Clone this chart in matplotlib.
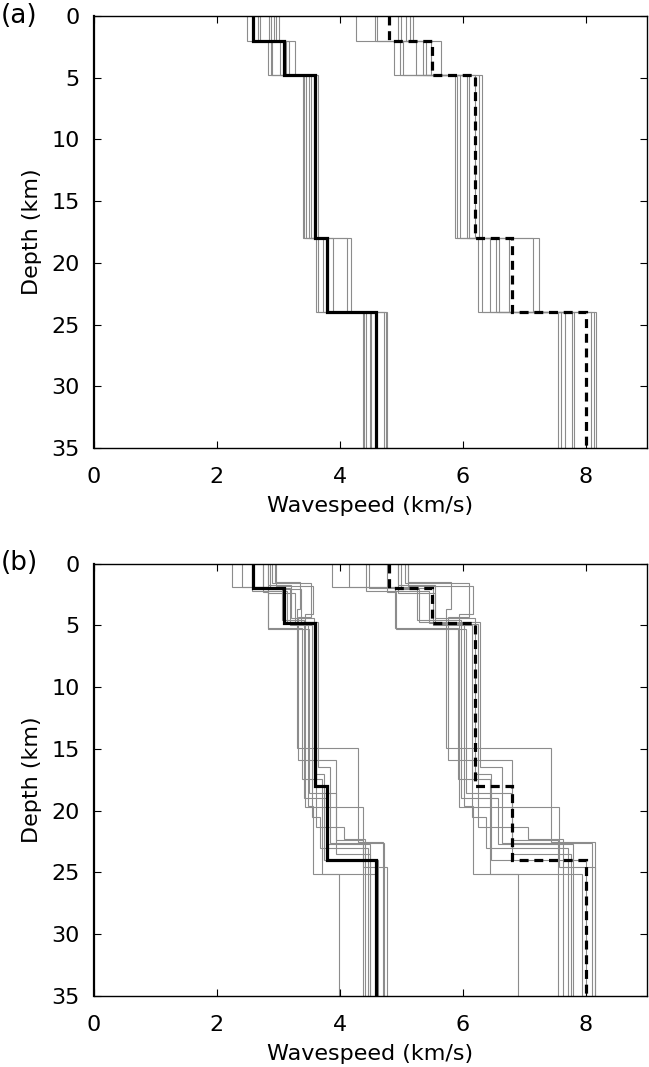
import matplotlib
matplotlib.use("Agg")
import matplotlib.pyplot as plt
import numpy as np

plt.rcParams['font.family'] = ['DejaVu Sans']

# ---------------- data ----------------
# reference model (both panels)
ref_bounds = [0, 2, 4.8, 18, 24, 35]
ref_vs = [2.6, 3.1, 3.6, 3.8, 4.6]
ref_vp = [4.8, 5.5, 6.2, 6.8, 8.0]

# panel (a): perturbed velocities, fixed layer boundaries
a_bounds = [0, 2, 4.8, 18, 24, 35]
a_vs_1 = [2.49, 2.83, 3.40, 3.61, 4.38]
a_vs_2 = [2.67, 3.27, 3.65, 4.19, 4.77]
a_vs_3 = [2.70, 2.91, 3.45, 3.82, 4.40]
a_vs_4 = [2.86, 3.09, 3.53, 3.73, 4.52]
a_vs_5 = [2.89, 3.18, 3.42, 4.13, 4.73]
a_vs_6 = [2.93, 3.03, 3.62, 3.65, 4.49]
a_vs_7 = [2.96, 3.13, 3.51, 3.79, 4.43]
a_vs_8 = [3.01, 2.88, 3.58, 3.90, 4.75]
a_vp_1 = [4.27, 4.89, 5.88, 6.25, 7.55]
a_vp_2 = [4.58, 5.65, 6.32, 7.25, 8.17]
a_vp_3 = [4.61, 5.03, 5.96, 6.60, 7.60]
a_vp_4 = [4.95, 5.35, 6.11, 6.45, 7.82]
a_vp_5 = [5.00, 5.49, 5.91, 7.14, 8.09]
a_vp_6 = [5.08, 5.25, 6.27, 6.32, 7.78]
a_vp_7 = [5.14, 5.41, 6.08, 6.55, 7.67]
a_vp_8 = [5.19, 4.98, 6.20, 6.75, 8.14]

# panel (b): perturbed velocities and layer boundaries
b_bounds_1 = [0, 1.5, 3.7, 14.9, 22.5, 35]
b_bounds_2 = [0, 1.6, 4.3, 15.9, 22.4, 35]
b_bounds_3 = [0, 1.9, 5.2, 17.4, 25.1, 35]
b_bounds_4 = [0, 1.9, 4.6, 19.0, 22.7, 35]
b_bounds_5 = [0, 2.2, 4.8, 19.6, 25.1, 35]
b_bounds_6 = [0, 2.0, 5.0, 20.5, 23.0, 35]
b_bounds_7 = [0, 2.4, 4.9, 21.3, 22.3, 35]
b_bounds_8 = [0, 2.1, 4.7, 16.5, 22.6, 35]
b_bounds_9 = [0, 1.8, 4.1, 19.7, 24.6, 35]
b_bounds_10 = [0, 2.3, 5.3, 18.6, 23.5, 35]
b_bounds_11 = [0, 1.7, 4.4, 17.0, 24.0, 35]
b_vs_1 = [2.95, 3.36, 3.31, 4.30, 4.71]
b_vs_2 = [2.91, 3.53, 3.33, 3.95, 4.38]
b_vs_3 = [2.26, 2.84, 3.39, 3.72, 3.99]
b_vs_4 = [2.42, 3.06, 3.43, 3.80, 4.49]
b_vs_5 = [2.57, 3.14, 3.48, 3.57, 4.60]
b_vs_6 = [2.76, 3.19, 3.55, 3.69, 4.46]
b_vs_7 = [2.83, 3.27, 3.61, 4.08, 4.41]
b_vs_8 = [2.87, 3.38, 3.65, 3.84, 4.73]
b_vs_9 = [2.96, 3.57, 3.44, 4.38, 4.77]
b_vs_10 = [2.76, 2.84, 3.50, 3.94, 4.49]
b_vs_11 = [2.83, 3.21, 3.59, 3.74, 4.62]
b_vp_1 = [5.11, 5.81, 5.73, 7.44, 8.15]
b_vp_2 = [5.06, 6.10, 5.76, 6.81, 7.56]
b_vp_3 = [3.88, 4.90, 5.92, 6.44, 6.90]
b_vp_4 = [4.16, 5.26, 5.98, 6.57, 7.79]
b_vp_5 = [4.43, 5.45, 6.03, 6.17, 7.95]
b_vp_6 = [4.48, 5.52, 6.16, 6.38, 7.71]
b_vp_7 = [4.95, 5.56, 6.25, 7.06, 7.63]
b_vp_8 = [5.00, 5.30, 6.29, 6.65, 8.11]
b_vp_9 = [5.11, 6.17, 5.95, 7.57, 8.15]
b_vp_10 = [4.78, 4.92, 6.06, 6.81, 7.77]
b_vp_11 = [4.95, 5.55, 6.21, 6.47, 8.00]

x_ticks = [0, 2, 4, 6, 8]
y_ticks = [0, 5, 10, 15, 20, 25, 30, 35]
x_label = "Wavespeed (km/s)"
y_label = "Depth (km)"
panel_labels = ["(a)", "(b)"]

a_models = [
    (a_bounds, a_vs_1, a_vp_1), (a_bounds, a_vs_2, a_vp_2),
    (a_bounds, a_vs_3, a_vp_3), (a_bounds, a_vs_4, a_vp_4),
    (a_bounds, a_vs_5, a_vp_5), (a_bounds, a_vs_6, a_vp_6),
    (a_bounds, a_vs_7, a_vp_7), (a_bounds, a_vs_8, a_vp_8),
]
b_models = [
    (b_bounds_1, b_vs_1, b_vp_1), (b_bounds_2, b_vs_2, b_vp_2),
    (b_bounds_3, b_vs_3, b_vp_3), (b_bounds_4, b_vs_4, b_vp_4),
    (b_bounds_5, b_vs_5, b_vp_5), (b_bounds_6, b_vs_6, b_vp_6),
    (b_bounds_7, b_vs_7, b_vp_7), (b_bounds_8, b_vs_8, b_vp_8),
    (b_bounds_9, b_vs_9, b_vp_9), (b_bounds_10, b_vs_10, b_vp_10),
    (b_bounds_11, b_vs_11, b_vp_11),
]

# ---------------- figure ----------------
W, H = 649, 1067
fig = plt.figure(figsize=(W / 100, H / 100), dpi=100)

def px_axes(left, top, right, bottom):
    return fig.add_axes([left / W, 1 - bottom / H, (right - left) / W, (bottom - top) / H])

ax_a = px_axes(93.5, 16, 647, 448)
ax_b = px_axes(93.5, 563.5, 647, 996)

gray = (0.55, 0.55, 0.55)
FS = 16

for ax, models, lab in [(ax_a, a_models, panel_labels[0]), (ax_b, b_models, panel_labels[1])]:
    for bounds, vs, vp in models:
        ax.stairs(vs, bounds, orientation='horizontal', baseline=None,
                  color=gray, lw=0.8)
        ax.stairs(vp, bounds, orientation='horizontal', baseline=None,
                  color=gray, lw=0.8)
    ax.stairs(ref_vs, ref_bounds, orientation='horizontal', baseline=None,
              color='black', lw=2.3)
    ax.stairs(ref_vp, ref_bounds, orientation='horizontal', baseline=None,
              color='black', lw=2.3, linestyle=(0, (2.8, 1.8)))
    ax.set_xlim(0, 9)
    ax.set_ylim(35, 0)
    ax.set_xticks(x_ticks)
    ax.set_yticks(y_ticks)
    ax.tick_params(direction='in', length=5, width=0.8, top=True, right=True,
                   labelsize=FS)
    ax.tick_params(axis='x', pad=14)
    ax.tick_params(axis='y', pad=10)
    for s in ax.spines.values():
        s.set_linewidth(1.0)
    ax.spines['left'].set_linewidth(1.6)
    ax.set_xlabel(x_label, fontsize=FS, labelpad=6)
    ax.set_ylabel(y_label, fontsize=FS, labelpad=7)
    ax.text(-0.168, 1.0, lab, transform=ax.transAxes, fontsize=19,
            ha='left', va='center')

fig.savefig("out.png", dpi=100)
